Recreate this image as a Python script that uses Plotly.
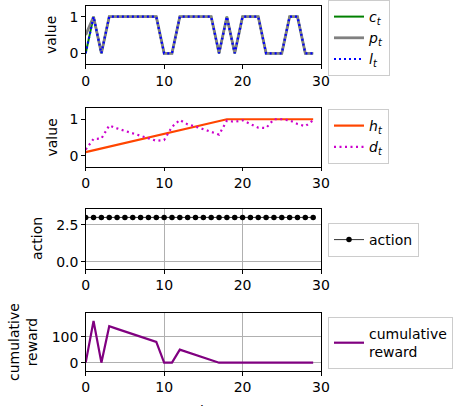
import plotly.graph_objects as go

W, H = 456, 406

t = list(range(30))
c_t = [0, 1, 0, 1, 1, 1, 1, 1, 1, 1, 0, 0, 1, 1, 1, 1, 1, 0, 1, 0, 1, 1, 1, 0, 0, 0, 1, 1, 0, 0]
p_t = [0.5, 1, 0, 1, 1, 1, 1, 1, 1, 1, 0, 0, 1, 1, 1, 1, 1, 0, 1, 0, 1, 1, 1, 0, 0, 0, 1, 1, 0, 0]
l_t = [0, 1, 0, 1, 1, 1, 1, 1, 1, 1, 0, 0, 1, 1, 1, 1, 1, 0, 1, 0, 1, 1, 1, 0, 0, 0, 1, 1, 0, 0]
h_t = [0.10, 0.15, 0.20, 0.25, 0.30, 0.35, 0.40, 0.45, 0.50, 0.55, 0.60, 0.65, 0.70, 0.75,
       0.80, 0.85, 0.90, 0.95, 1.00, 1.00, 1.00, 1.00, 1.00, 1.00, 1.00, 1.00, 1.00, 1.00,
       1.00, 1.00]
d_t = [0.17, 0.46, 0.47, 0.83, 0.75, 0.68, 0.60, 0.53, 0.48, 0.41, 0.43, 0.79, 0.98, 0.86,
       0.80, 0.72, 0.65, 0.58, 0.96, 0.93, 0.97, 0.87, 0.77, 0.76, 1.00, 1.00, 0.97, 0.87,
       0.81, 0.97]
action = [3] * 30
cum_reward = [0, 160, 0, 140, 130, 120, 110, 100, 90, 80, 0, 0, 50, 40, 30, 20, 10, 0, 0, 0,
              0, 0, 0, 0, 0, 0, 0, 0, 0, 0]

FONT = "DejaVu Sans"
FS = 14

def px_x(x):
    return x / W

def px_y(y):
    return (H - y) / H

xd = [px_x(85.7), px_x(321)]
doms = [
    [px_y(64.3), px_y(5.7)],
    [px_y(166.7), px_y(108.3)],
    [px_y(269), px_y(209.3)],
    [px_y(371), px_y(312.7)],
]

fig = go.Figure()

fig.add_trace(go.Scatter(x=t, y=c_t, mode="lines", name="<i>c<sub>t</sub></i>",
                         line=dict(color="#008000", width=2), xaxis="x", yaxis="y", legend="legend"))
fig.add_trace(go.Scatter(x=t, y=p_t, mode="lines", name="<i>p<sub>t</sub></i>",
                         line=dict(color="#808080", width=2.8), xaxis="x", yaxis="y", legend="legend"))
fig.add_trace(go.Scatter(x=t, y=l_t, mode="lines", name="<i>l<sub>t</sub></i>",
                         line=dict(color="#0000ff", width=2.2, dash="2px,3px"), xaxis="x", yaxis="y", legend="legend"))

fig.add_trace(go.Scatter(x=t, y=h_t, mode="lines", name="<i>h<sub>t</sub></i>",
                         line=dict(color="#ff4500", width=2.2), xaxis="x2", yaxis="y2", legend="legend2"))
fig.add_trace(go.Scatter(x=t, y=d_t, mode="lines", name="<i>d<sub>t</sub></i>",
                         line=dict(color="#cc00cc", width=2.2, dash="2px,3.5px"), xaxis="x2", yaxis="y2", legend="legend2"))

fig.add_trace(go.Scatter(x=t, y=action, mode="lines+markers", name="action",
                         line=dict(color="#333333", width=1), marker=dict(color="black", size=5.5),
                         xaxis="x3", yaxis="y3", legend="legend3"))

fig.add_trace(go.Scatter(x=t, y=cum_reward, mode="lines", name="cumulative<br>reward",
                         line=dict(color="#800080", width=2.2), xaxis="x4", yaxis="y4", legend="legend4"))

axis_common = dict(showline=True, linecolor="black", linewidth=1, mirror=True,
                   ticks="outside", ticklen=3.5, tickwidth=1, tickcolor="black",
                   zeroline=False, automargin=False,
                   tickfont=dict(family=FONT, size=FS, color="black"))

grid_on = dict(showgrid=True, gridcolor="#b0b0b0", gridwidth=1)
grid_off = dict(showgrid=False)

layout = dict(
    width=W, height=H,
    margin=dict(l=0, r=0, t=0, b=0, autoexpand=False),
    paper_bgcolor="white", plot_bgcolor="white",
    font=dict(family=FONT, size=FS, color="black"),
)

yranges = [[-0.3, 1.3], [-0.3, 1.3], [-0.5, 3.55], [-32, 192]]
ytickvals = [[0, 1], [0, 1], [0, 2.5], [0, 100]]
yticktext = [["0", "1"], ["0", "1"], ["0.0", "2.5"], ["0", "100"]]
grids = [False, False, True, True]

for i in range(4):
    sfx = "" if i == 0 else str(i + 1)
    g = grid_on if grids[i] else grid_off
    layout["xaxis" + sfx] = dict(domain=xd, range=[0, 30], tickvals=[0, 10, 20, 30],
                                 anchor="y" + sfx, **axis_common, **g)
    layout["yaxis" + sfx] = dict(domain=doms[i], range=yranges[i], tickvals=ytickvals[i],
                                 ticktext=yticktext[i], anchor="x" + sfx, **axis_common, **g)

leg_common = dict(bgcolor="white", bordercolor="#cccccc", borderwidth=1,
                  font=dict(family=FONT, size=FS, color="black"),
                  xanchor="left", yanchor="top", itemwidth=30, tracegroupgap=0)
layout["legend"] = dict(x=px_x(328), y=px_y(0), **leg_common)
layout["legend2"] = dict(x=px_x(328), y=px_y(109), **leg_common)
layout["legend3"] = dict(x=px_x(328), y=px_y(223), **leg_common)
layout["legend4"] = dict(x=px_x(328), y=px_y(317), **leg_common)

ann = []
def ylabel(text, xpx, ypx):
    ann.append(dict(text=text, x=px_x(xpx), y=px_y(ypx), xref="paper", yref="paper",
                    showarrow=False, textangle=-90, xanchor="center", yanchor="middle",
                    font=dict(family=FONT, size=FS, color="black")))

ylabel("value", 51, 35)
ylabel("value", 51, 137.5)
ylabel("action", 37, 239)
ylabel("cumulative<br>reward", 23, 342)
ann.append(dict(text="t", x=px_x(203.3), y=px_y(410), xref="paper", yref="paper",
                showarrow=False, xanchor="center", yanchor="middle",
                font=dict(family=FONT, size=FS, color="black")))
layout["annotations"] = ann
layout["showlegend"] = True

fig.update_layout(**layout)
fig.write_html("out.html")
